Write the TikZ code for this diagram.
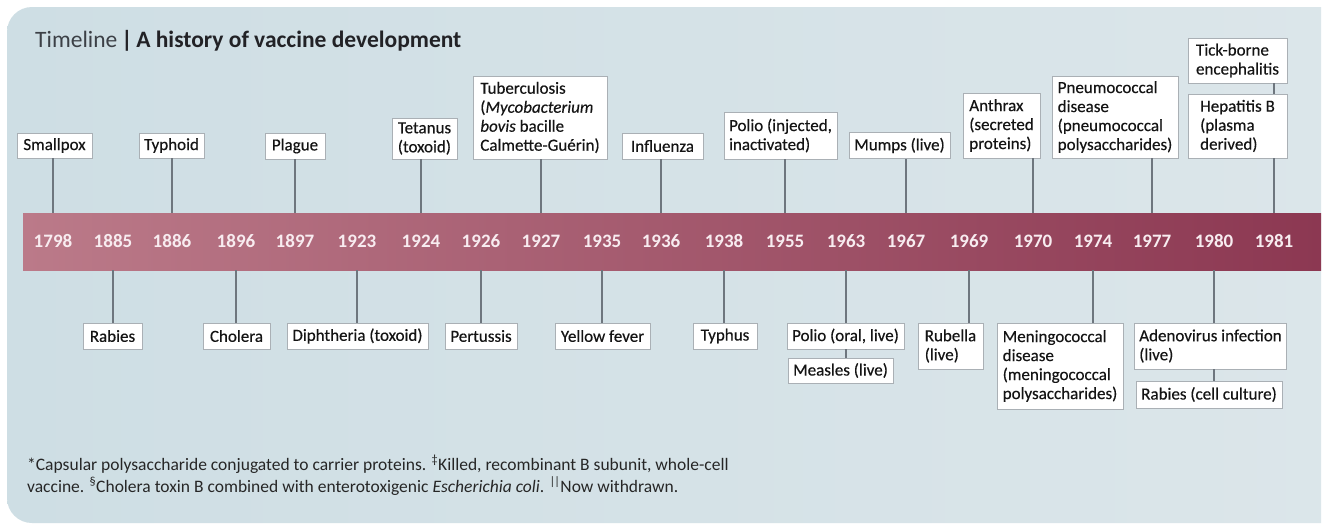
\documentclass[tikz,border=0pt]{standalone}
\usepackage{fontspec}
\setmainfont{Carlito}
\newfontfamily\boxfont[FakeBold=0.35]{Carlito}
\definecolor{panel}{RGB}{206,222,228}
\definecolor{panelR}{RGB}{220,230,234}
\definecolor{barL}{RGB}{187,122,137}
\definecolor{barR}{RGB}{140,56,82}
\definecolor{conncol}{RGB}{110,118,126}
\definecolor{boxline}{RGB}{170,176,181}
\definecolor{titlegrey}{RGB}{60,64,70}
\definecolor{titledark}{RGB}{34,34,38}
\definecolor{yeartext}{RGB}{248,236,240}
\tikzset{
  box/.style={draw=boxline, fill=white, line width=0.7pt, inner xsep=5pt, inner ysep=3pt,
    align=left, font=\boxfont\fontsize{17}{19}\selectfont, text=black!92},
  yr/.style={inner sep=0pt, minimum height=57pt, text=yeartext,
    font=\fontsize{19}{21}\selectfont\bfseries},
  conn/.style={draw=conncol, line width=1.3pt},
  foot/.style={inner sep=0pt, anchor=base west, text=black!85, font=\fontsize{17.5}{20}\selectfont}
}
\begin{document}
\begin{tikzpicture}[x=1pt,y=-1pt]
\useasboundingbox (0,0) rectangle (1329,525);
\fill[white] (0,0) rectangle (1329,525);
% panel
\begin{scope}
  \clip (0,0) rectangle (1321,525);
  \shade[left color=panel, right color=panelR, rounded corners=25pt] (7,7) rectangle (1370,523);
\end{scope}
% title
\node[anchor=base west, inner sep=0pt, font=\fontsize{23.5}{26}\selectfont] (title) at (35,47)
  {\textcolor{titlegrey}{Timeline}\,\textcolor{titledark}{\bfseries|\,A history of vaccine development}};
% bar
\shade[left color=barL, right color=barR] (23,213) rectangle (1321,270);
% years
\foreach \yy/\xx in {1798/53,1885/113,1886/172,1896/236,1897/295,1923/357,1924/421,1926/481,1927/541,1935/602,1936/661,1938/724,1955/785,1963/846,1967/906,1969/969,1970/1033,1974/1093,1977/1152,1980/1214,1981/1274}
  \node[yr] (y\yy) at (\xx,241.5) {\yy};
% top boxes
\node[box, minimum width=75pt, minimum height=25pt] (smallpox) at (54.5,145.5) {Smallpox};
\node[box, minimum width=65pt, minimum height=25pt] (typhoid) at (171.5,145.5) {Typhoid};
\node[box, minimum width=60pt, minimum height=26pt] (plague) at (295,146) {Plague};
\node[box, minimum width=65pt, minimum height=41pt] (tetanus) at (424.5,138.5) {Tetanus\\(toxoid)};
\node[box, minimum width=134pt, minimum height=83pt] (tb) at (540,117.5) {Tuberculosis\\(\textit{Mycobacterium}\\\textit{bovis} bacille\\Calmette-Guérin)};
\node[box, minimum width=81pt, minimum height=26pt] (influenza) at (662.5,146) {Influenza};
\node[box, minimum width=113pt, minimum height=47pt] (polioinj) at (780.5,135.5) {Polio (injected,\\inactivated)};
\node[box, minimum width=101pt, minimum height=26pt] (mumps) at (899.5,145.5) {Mumps (live)};
\node[box, minimum width=77pt, minimum height=65pt] (anthrax) at (1001.5,125.5) {Anthrax\\(secreted\\proteins)};
\node[box, minimum width=126pt, minimum height=82pt] (pneumo) at (1115,117) {Pneumococcal\\disease\\(pneumococcal\\polysaccharides)};
\node[box, minimum width=99pt, minimum height=45pt] (tick) at (1237.5,60.5) {Tick-borne\\encephalitis};
\node[box, minimum width=99pt, minimum height=64pt] (hepb) at (1237.5,126) {Hepatitis B\\(plasma\\derived)};
% bottom boxes
\node[box, minimum width=59pt, minimum height=26pt] (rabies) at (112.5,336) {Rabies};
\node[box, minimum width=67pt, minimum height=26pt] (cholera) at (236.5,336) {Cholera};
\node[box, minimum width=141pt, minimum height=26pt] (diph) at (357.5,336) {Diphtheria (toxoid)};
\node[box, minimum width=72pt, minimum height=26pt] (pertussis) at (481,336) {Pertussis};
\node[box, minimum width=95pt, minimum height=26pt] (yellow) at (602.5,336) {Yellow fever};
\node[box, minimum width=64pt, minimum height=26pt] (typhus) at (725,336) {Typhus};
\node[box, minimum width=115pt, minimum height=26pt] (poliooral) at (845.5,336) {Polio (oral, live)};
\node[box, minimum width=105pt, minimum height=25pt] (measles) at (840.5,370.5) {Measles (live)};
\node[box, minimum width=65pt, minimum height=46pt] (rubella) at (950.5,346) {Rubella\\(live)};
\node[box, minimum width=126pt, minimum height=86pt] (mening) at (1060,366) {Meningococcal\\disease\\(meningococcal\\polysaccharides)};
\node[box, minimum width=151pt, minimum height=46pt] (adeno) at (1210.5,346) {Adenovirus infection\\(live)};
\node[box, minimum width=146pt, minimum height=27pt] (rabcell) at (1209,394.5) {Rabies (cell culture)};
% connectors top
\draw[conn] (smallpox.south -| y1798) -- (y1798.north);
\draw[conn] (typhoid.south -| y1886) -- (y1886.north);
\draw[conn] (plague.south -| y1897) -- (y1897.north);
\draw[conn] (tetanus.south -| y1924) -- (y1924.north);
\draw[conn] (tb.south -| y1927) -- (y1927.north);
\draw[conn] (influenza.south -| y1936) -- (y1936.north);
\draw[conn] (polioinj.south -| y1955) -- (y1955.north);
\draw[conn] (mumps.south -| y1967) -- (y1967.north);
\draw[conn] (anthrax.south -| y1970) -- (y1970.north);
\draw[conn] (pneumo.south -| y1977) -- (y1977.north);
\draw[conn] (hepb.south -| y1981) -- (y1981.north);
\draw[conn] (tick.south -| y1981) -- (hepb.north -| y1981);
% connectors bottom
\draw[conn] (y1885.south) -- (rabies.north -| y1885);
\draw[conn] (y1896.south) -- (cholera.north -| y1896);
\draw[conn] (y1923.south) -- (diph.north -| y1923);
\draw[conn] (y1926.south) -- (pertussis.north -| y1926);
\draw[conn] (y1935.south) -- (yellow.north -| y1935);
\draw[conn] (y1938.south) -- (typhus.north -| y1938);
\draw[conn] (y1963.south) -- (poliooral.north -| y1963);
\draw[conn] (poliooral.south -| y1963) -- (measles.north -| y1963);
\draw[conn] (y1969.south) -- (rubella.north -| y1969);
\draw[conn] (y1974.south) -- (mening.north -| y1974);
\draw[conn] (y1980.south) -- (adeno.north -| y1980);
\draw[conn] (adeno.south -| y1980) -- (rabcell.north -| y1980);
% footnote
\node[foot] (fn1) at (27,470) {*Capsular polysaccharide conjugated to carrier proteins. \textsuperscript{‡}Killed, recombinant B subunit, whole-cell};
\node[foot] (fn2) at (27,492) {vaccine. \textsuperscript{§}Cholera toxin B combined with enterotoxigenic \textit{Escherichia coli}. \textsuperscript{|\kern-0.08em|}Now withdrawn.};
\end{tikzpicture}
\end{document}
